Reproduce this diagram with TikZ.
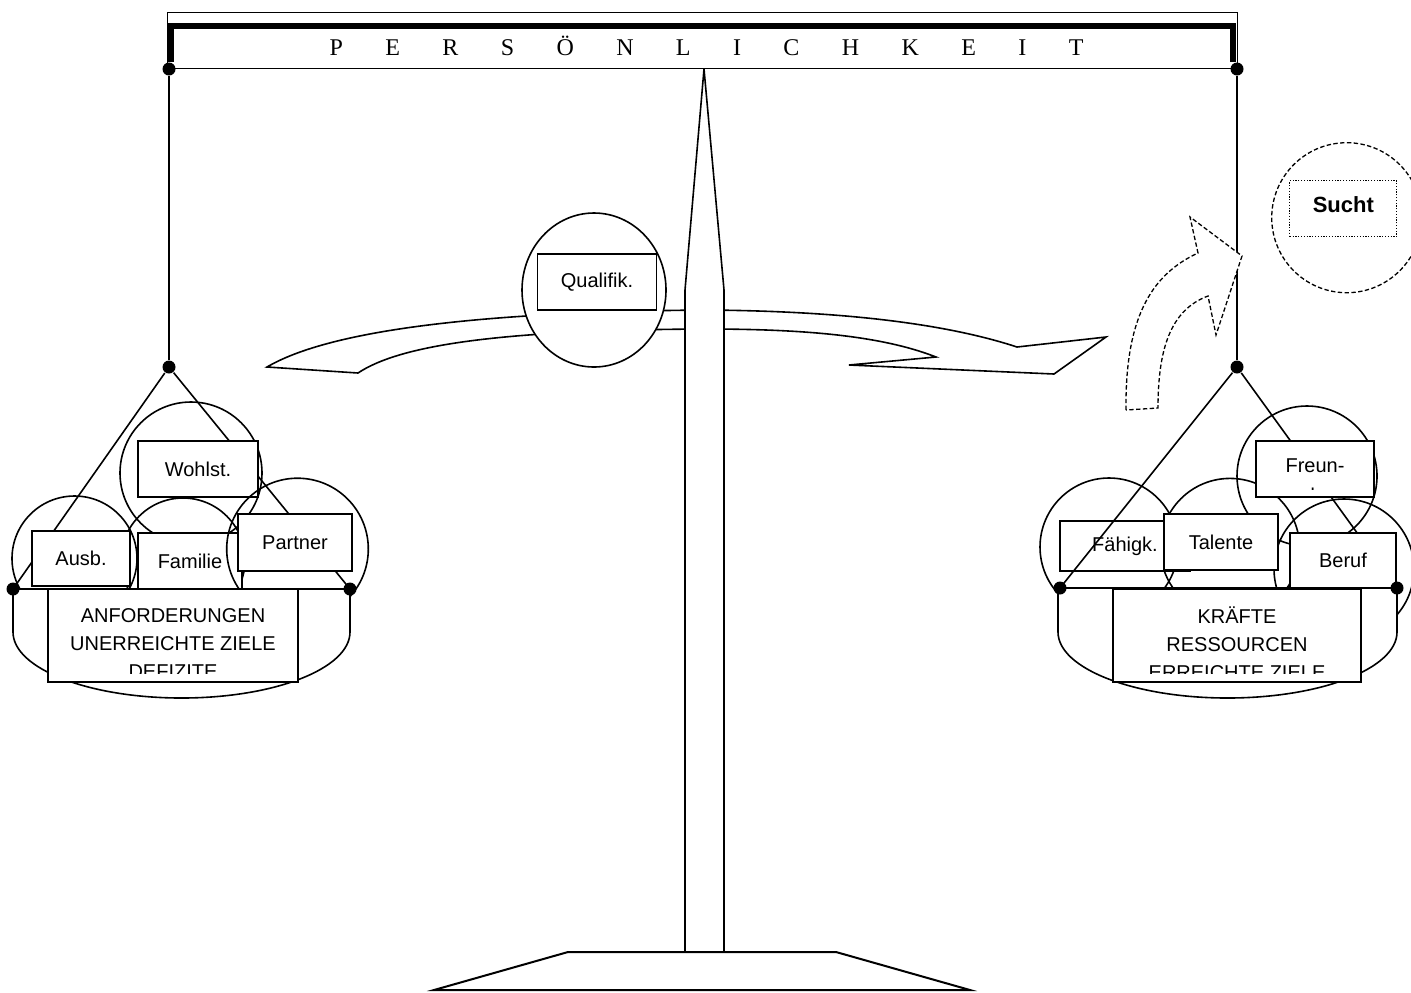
\documentclass[tikz,border=0pt]{standalone}
\usepackage{fontspec}
\setmainfont{Liberation Sans}
\newfontfamily\titlefont{Liberation Serif}
\newcommand{\tgap}{\kern21.2pt}

\begin{document}
\begin{tikzpicture}[x=0.5pt,y=-0.5pt,line width=0.8pt,
  box/.style={draw,fill=white,inner sep=0pt},
  dot/.style={circle,fill=black,inner sep=0pt,minimum size=6.5pt},
  lines/.style={align=center,font=\fontsize{10}{14}\selectfont},
  dashline/.style={dash pattern=on 2.2pt off 1.2pt,line width=0.65pt}]
\useasboundingbox (0,0) rectangle (1411,992);
\clip (0,0) rectangle (1411,992);

\filldraw[fill=white] (267,367) .. controls (330,330) and (480,312) .. (705,310)
  .. controls (850,311) and (950,325) .. (1017,347) -- (1106,337) -- (1054,374) -- (849,365) -- (936,357)
  .. controls (880,335) and (800,329) .. (705,329)
  .. controls (500,330) and (400,345) .. (358,373) -- cycle;
\filldraw[fill=white] (594,290) ellipse [x radius=72, y radius=77];
\node[box,minimum width=59.5pt,minimum height=28pt] (quali) at (597,282) {Qualifik.};

\filldraw[fill=white] (704,69) -- (724,290) -- (724,952) -- (685,952) -- (685,290) -- cycle;
\filldraw[fill=white,line width=1pt] (568,952) -- (836,952) -- (970,990) -- (434,990) -- cycle;

\draw[line width=0.5pt] (167,12.5) rectangle (1237,68.5);
\draw[line width=3pt] (171,62) -- (171,25.7) -- (1233,25.7) -- (1233,62);
\node[anchor=base] (title) at (706.5,55) {\titlefont\fontsize{12}{14}\selectfont
  P\tgap E\tgap R\tgap S\tgap Ö\tgap N\tgap L\tgap I\tgap C\tgap H\tgap K\tgap E\tgap I\tgap T};

\node[dot] (topL) at (169,69) {};
\node[dot] (topR) at (1237,69) {};
\node[dot] (hangL) at (169,367) {};
\node[dot] (hangR) at (1237,367) {};
\draw[line width=0.65pt] (topL) -- (hangL);
\draw[line width=0.65pt] (topR) -- (hangR);
\coordinate (rimLa) at (13,589);
\coordinate (rimLb) at (350,589);
\coordinate (rimRa) at (1060,588);
\coordinate (rimRb) at (1397,588);

\draw (74.5,558.5) circle [radius=62.5];
\draw (191,473) circle [radius=71];
\draw (183,560) circle [radius=62];
\draw (hangL) -- (rimLa) (hangL) -- (rimLb);
\node[box,minimum width=49pt,minimum height=27.5pt] (ausb) at (81,558.5) {Ausb.};
\node[box,minimum width=60pt,minimum height=28pt] (wohl) at (198,469) {Wohlst.};
\node[box,minimum width=52pt,minimum height=28pt] (fam) at (190,561) {Familie};
\draw (297.5,549) circle [radius=70.8];
\node[box,minimum width=57pt,minimum height=28.5pt] (partner) at (295,542.5) {Partner};

\draw (1109,547) circle [radius=69];
\draw (1230,548) circle [radius=69.6];
\draw (1307,476) circle [radius=70];
\draw (1344,569) circle [radius=70];
\node[box,minimum width=65pt,minimum height=25pt] (faehig) at (1125,546) {Fähigk.};
\draw (hangR) -- (rimRa) (hangR) -- (rimRb);
\node[box,minimum width=57pt,minimum height=28pt] (talent) at (1221,542) {Talente};
\node[box,minimum width=59pt,minimum height=28pt] (freund) at (1315,469) {};
\node (freundtext) at (1315,466) {Freun-};
\begin{scope}
\clip (1256,441) rectangle (1374,489);
\node[anchor=base] (freundrest) at (1315,502) {de};
\end{scope}
\node[box,minimum width=53pt,minimum height=27.5pt] (beruf) at (1343,560.5) {Beruf};

\filldraw[fill=white] (13,589) -- (13,632) .. controls (13,668.5) and (88.4,698) .. (181.5,698)
  .. controls (274.6,698) and (350,668.5) .. (350,632) -- (350,589) -- cycle;
\filldraw[fill=white] (1058,588) -- (1058,632) .. controls (1058,668.5) and (1134,698) .. (1227.5,698)
  .. controls (1321,698) and (1397,668.5) .. (1397,632) -- (1397,588) -- cycle;

\node[box,minimum width=125pt,minimum height=46.5pt] (lbox) at (173,635.5) {};
\begin{scope}
\clip (48,589) rectangle (298,673);
\node[lines] (ltext) at (173,643) {ANFORDERUNGEN\\UNERREICHTE ZIELE\\DEFIZITE};
\end{scope}
\node[box,minimum width=124pt,minimum height=46.5pt] (rbox) at (1237,635.5) {};
\begin{scope}
\clip (1113,589) rectangle (1361,673);
\node[lines] (rtext) at (1237,643) {KRÄFTE\\RESSOURCEN\\ERREICHTE ZIELE};
\end{scope}

\node[dot] (dotLa) at (rimLa) {};
\node[dot] (dotLb) at (rimLb) {};
\node[dot] (dotRa) at (rimRa) {};
\node[dot] (dotRb) at (rimRb) {};

\filldraw[fill=white,dashline] (1126,410) .. controls (1125,320) and (1150,275) .. (1198,253) -- (1190,217)
  -- (1242,256) -- (1216,335) -- (1208,296) .. controls (1170,310) and (1158,350) .. (1158,408) -- cycle;
\draw[dashline] (1346.7,217.7) circle [radius=75];
\node[draw,line width=0.6pt,dash pattern=on 0.6pt off 0.8pt,minimum width=53.5pt,minimum height=28pt] (sucht) at (1343.3,208.7) {};
\node (suchttext) at (1343.3,205) {\fontsize{11}{13}\selectfont\textbf{Sucht}};
\end{tikzpicture}
\end{document}
